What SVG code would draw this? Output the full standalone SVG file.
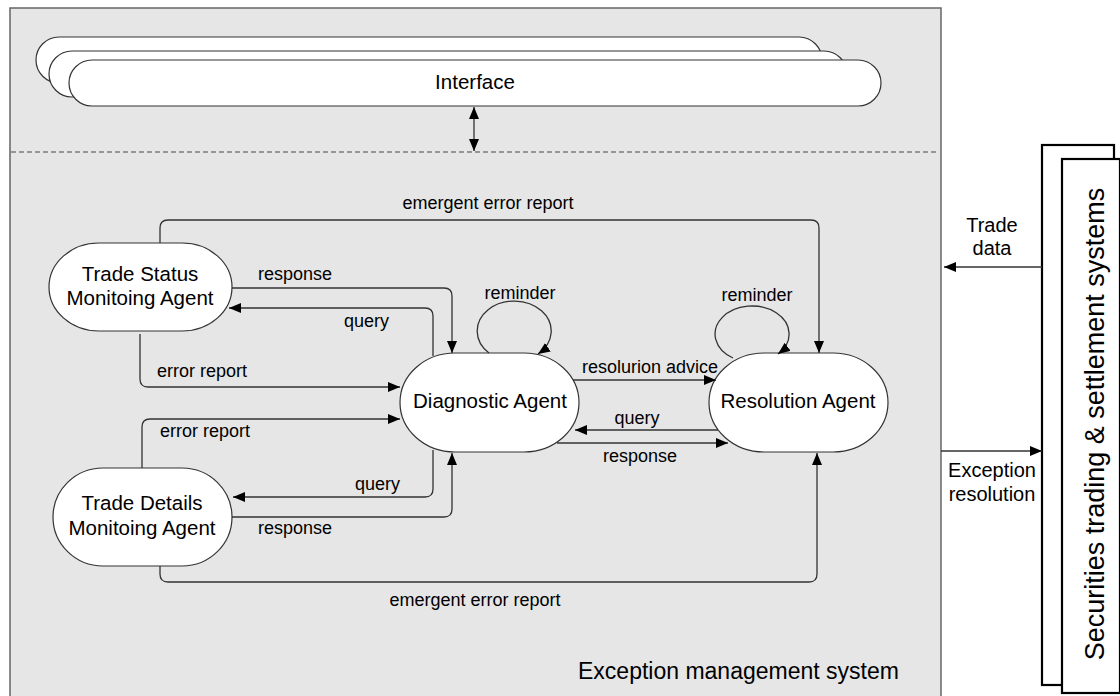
<svg xmlns="http://www.w3.org/2000/svg" width="1120" height="696" viewBox="0 0 1120 696">
<style>
text{font-family:"Liberation Sans",Arial,sans-serif;fill:#000}
.node{font-size:20.5px;text-anchor:middle}
.lbl{font-size:18px}
.side{font-size:20px;text-anchor:middle}
.shape{fill:#fff;stroke:#333;stroke-width:1.2}
.conn{fill:none;stroke:#333;stroke-width:1.3}
</style>
<defs>
<marker id="ah" markerUnits="userSpaceOnUse" markerWidth="13" markerHeight="11" refX="12" refY="5" orient="auto-start-reverse">
<path d="M0,0 L12,5 L0,10 z" fill="#000"/>
</marker>
</defs>
<rect width="1120" height="696" fill="#fff"/>
<g id="ems">
<rect x="10" y="8" width="931" height="700" fill="#e6e6e6" stroke="#666" stroke-width="1.5"/>
<line x1="11" y1="152" x2="938" y2="152" stroke="#444" stroke-width="1" stroke-dasharray="5,3"/>
<text x="578" y="679" style="font-size:23px">Exception management system</text>
</g>
<g id="interface">
<rect class="shape" x="36" y="37" width="786" height="46" rx="23" ry="23"/>
<rect class="shape" x="49" y="51" width="798" height="46" rx="23" ry="23"/>
<rect class="shape" x="69" y="60" width="812" height="46" rx="23" ry="23"/>
<text class="node" x="475" y="89">Interface</text>
</g>
<g id="trade-status">
<rect class="shape" x="49" y="243" width="183" height="88" rx="50" ry="44"/>
<text class="node" x="140" y="281">Trade Status</text>
<text class="node" x="140" y="305">Monitoing Agent</text>
</g>
<g id="trade-details">
<rect class="shape" x="53" y="468" width="179" height="98" rx="50" ry="49"/>
<text class="node" x="142" y="510">Trade Details</text>
<text class="node" x="142" y="535">Monitoing Agent</text>
</g>
<g id="diagnostic">
<rect class="shape" x="400" y="353" width="179" height="99" rx="55" ry="49.5"/>
<text class="node" x="490" y="408">Diagnostic Agent</text>
</g>
<g id="resolution">
<rect class="shape" x="709" y="353" width="179" height="99" rx="55" ry="49.5"/>
<text class="node" x="798" y="408">Resolution Agent</text>
</g>
<g id="securities">
<rect x="1042" y="145" width="72" height="540" fill="#fff" stroke="#000" stroke-width="2.2"/>
<rect x="1062" y="159" width="58" height="534" fill="#fff" stroke="#000" stroke-width="2.2"/>
<text transform="translate(1104,424) rotate(-90)" style="font-size:27px;text-anchor:middle">Securities trading &amp; settlement systems</text>
</g>
<g id="connectors">
<line class="conn" x1="474" y1="107" x2="474" y2="151" marker-start="url(#ah)" marker-end="url(#ah)"/>
<path class="conn" d="M160,243 V228 Q160,220 168,220 H811 Q819,220 819,228 V353" marker-end="url(#ah)"/>
<path class="conn" d="M232,288 H444 Q452,288 452,296 V353" marker-end="url(#ah)"/>
<path class="conn" d="M433,356 V316 Q433,308 425,308 H229" marker-end="url(#ah)"/>
<path class="conn" d="M140,334 V379 Q140,387 148,387 H400" marker-end="url(#ah)"/>
<path class="conn" d="M142,468 V427 Q142,419 150,419 H400" marker-end="url(#ah)"/>
<path class="conn" d="M433,450 V489 Q433,497 425,497 H233" marker-end="url(#ah)"/>
<path class="conn" d="M232,517 H444 Q452,517 452,509 V453" marker-end="url(#ah)"/>
<path class="conn" d="M160,566 V574 Q160,582 168,582 H809 Q817,582 817,574 V453" marker-end="url(#ah)"/>
<path class="conn" d="M573,380 H716" marker-end="url(#ah)"/>
<path class="conn" d="M718,430 H575" marker-end="url(#ah)"/>
<path class="conn" d="M557,443 H728" marker-end="url(#ah)"/>
<path class="conn" d="M489,353 A37,30 0 1 1 538,354" marker-end="url(#ah)"/>
<path class="conn" d="M733,358 A37,28 0 1 1 778,354" marker-end="url(#ah)"/>
<path class="conn" d="M1042,267 H944" marker-end="url(#ah)"/>
<path class="conn" d="M941,451 H1042" marker-end="url(#ah)"/>
</g>
<g id="labels">
<text class="lbl" x="488" y="209" text-anchor="middle">emergent error report</text>
<text class="lbl" x="258" y="280">response</text>
<text class="lbl" x="344" y="327">query</text>
<text class="lbl" x="157" y="377">error report</text>
<text class="lbl" x="160" y="437">error report</text>
<text class="lbl" x="355" y="490">query</text>
<text class="lbl" x="258" y="534">response</text>
<text class="lbl" x="475" y="606" text-anchor="middle">emergent error report</text>
<text class="lbl" x="520" y="299" text-anchor="middle">reminder</text>
<text class="lbl" x="757" y="301" text-anchor="middle">reminder</text>
<text class="lbl" x="650" y="373" text-anchor="middle">resolurion advice</text>
<text class="lbl" x="637" y="424" text-anchor="middle">query</text>
<text class="lbl" x="640" y="462" text-anchor="middle">response</text>
<text class="side" x="992" y="232">Trade</text>
<text class="side" x="992" y="255">data</text>
<text class="side" x="992" y="477">Exception</text>
<text class="side" x="992" y="501">resolution</text>
</g>
</svg>
